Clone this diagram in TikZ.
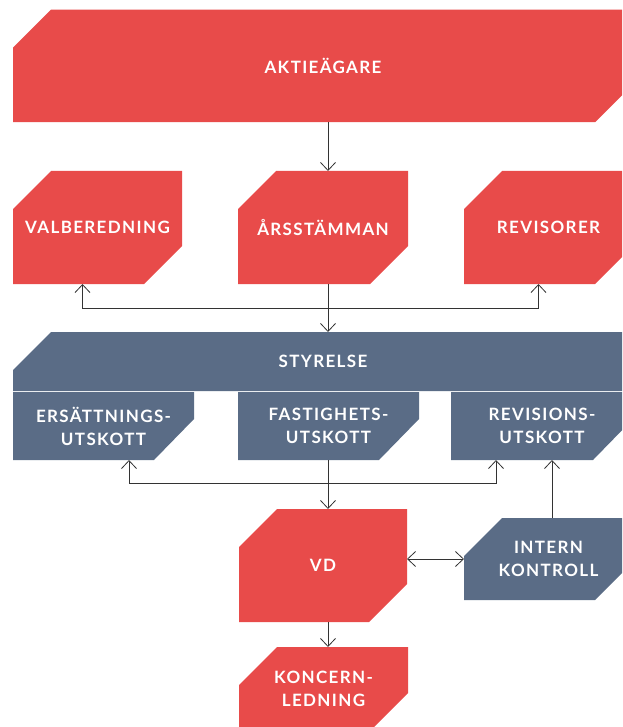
\documentclass[tikz,border=0pt]{standalone}
\usepackage{fontspec}
\setmainfont{Lato}
\newfontfamily\orgfont[LetterSpace=8]{Lato}
\usepackage{tikz}
\usetikzlibrary{positioning, arrows.meta}
\definecolor{orgRed}{HTML}{E84B4A}
\definecolor{orgSlate}{HTML}{5A6C86}
\definecolor{lineGrey}{HTML}{333333}

\tikzset{
  orgbox/.style={inner sep=0pt, outer sep=0pt, text=white, align=center,
    font=\orgfont\bfseries\fontsize{17}{23}\selectfont},
  cutboth/.style={orgbox, path picture={
    \fill[#1] ([yshift=-38pt]path picture bounding box.north west)
      -- ([xshift=38pt]path picture bounding box.north west)
      -- (path picture bounding box.north east)
      -- ([yshift=38pt]path picture bounding box.south east)
      -- ([xshift=-38pt]path picture bounding box.south east)
      -- (path picture bounding box.south west) -- cycle;}},
  cutnw/.style={orgbox, path picture={
    \fill[#1] ([yshift=-38pt]path picture bounding box.north west)
      -- ([xshift=38pt]path picture bounding box.north west)
      -- (path picture bounding box.north east)
      -- (path picture bounding box.south east)
      -- (path picture bounding box.south west) -- cycle;}},
  cutse/.style={orgbox, path picture={
    \fill[#1] (path picture bounding box.north west)
      -- (path picture bounding box.north east)
      -- ([yshift=41pt]path picture bounding box.south east)
      -- ([xshift=-40pt]path picture bounding box.south east)
      -- (path picture bounding box.south west) -- cycle;}},
  conn/.style={draw=lineGrey, line width=0.8pt},
  >={Straight Barb[length=8pt, width=15pt]}
}

\begin{document}
\begin{tikzpicture}[x=1pt, y=-1pt]
  \clip (0,0) rectangle (622,727);
  \coordinate (spine) at (328,0);
  % owners and general meeting
  \node[cutboth=orgRed, minimum width=620pt, minimum height=112.5pt] (akt) at (323,66) {AKTIEÄGARE};
  \node[cutboth=orgRed, minimum width=169pt, minimum height=113pt] (valb) at (97.5,227.5) {VALBEREDNING};
  \node[cutboth=orgRed, minimum width=170pt, minimum height=113pt] (ars) at (323,227.5) {ÅRSSTÄMMAN};
  \node[cutboth=orgRed, minimum width=169pt, minimum height=113pt] (rev) at (548.5,227.5) {REVISORER};
  % board and committees
  \node[cutnw=orgSlate, minimum width=620pt, minimum height=59pt] (sty) at (323,361.5) {STYRELSE};
  \node[cutse=orgSlate, minimum width=181pt, minimum height=68pt] (ers) at (103.5,426) {ERSÄTTNINGS-\\UTSKOTT};
  \node[cutse=orgSlate, minimum width=181pt, minimum height=68pt] (fast) at (328.5,426) {FASTIGHETS-\\UTSKOTT};
  \node[cutse=orgSlate, minimum width=182pt, minimum height=68pt] (revk) at (542,426) {REVISIONS-\\UTSKOTT};
  % management
  \node[cutboth=orgRed, minimum width=168pt, minimum height=113pt] (vd) at (323,565.5) {VD};
  \node[cutboth=orgSlate, minimum width=169pt, minimum height=82pt] (intern) at (548.5,559) {INTERN\\KONTROLL};
  \node[cutboth=orgRed, minimum width=169pt, minimum height=84pt] (konc) at (323.5,689) {KONCERN-\\LEDNING};

  \draw[conn, ->] (akt.south -| spine) -- (ars.north -| spine);
  \draw[conn, <->] ([xshift=-15pt]valb.south) -- ++(0,24) -| ([xshift=-10pt]rev.south);
  \draw[conn, ->] (ars.south -| spine) -- (sty.north -| spine);
  \draw[conn, <->] ([xshift=25.5pt]ers.south) -- ++(0,23) -| ([xshift=-46pt]revk.south);
  \draw[conn, ->] (fast.south -| spine) -- (vd.north -| spine);
  \draw[conn, <->] (vd.east |- intern.west) -- (intern.west);
  \draw[conn, ->] ([xshift=3.5pt]intern.north) -- ([xshift=3.5pt]intern.north |- revk.south);
  \draw[conn, ->] (vd.south -| spine) -- (konc.north -| spine);
\end{tikzpicture}
\end{document}
